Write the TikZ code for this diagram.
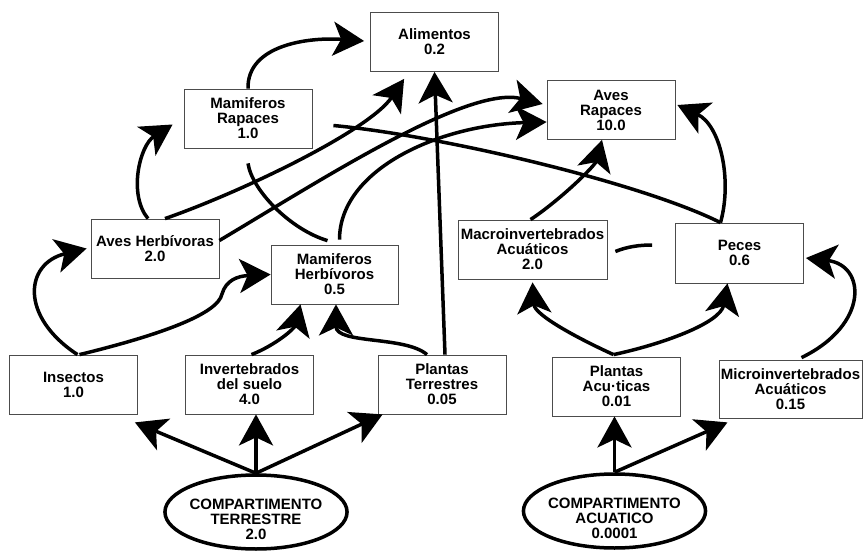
\documentclass[tikz,border=0pt]{standalone}
\usepackage{fontspec}
\setmainfont{Liberation Sans}
\usetikzlibrary{arrows.meta,shapes.geometric}

\begin{document}
\begin{tikzpicture}[x=1pt,y=-1pt,
  box/.style={draw=black!70,line width=0.8pt,align=center,inner sep=2pt,minimum width=128pt,minimum height=59pt,font=\bfseries\fontsize{15}{15}\selectfont},
  comp/.style={ellipse,draw,line width=3.5pt,align=center,inner xsep=-2pt,inner ysep=-6pt,minimum width=182pt,minimum height=74pt,font=\bfseries\fontsize{15}{15}\selectfont},
  arr/.style={-{Stealth[length=31pt,width=34pt,inset=8pt]},line width=3.5pt},
  lnk/.style={line width=3.5pt}]
\useasboundingbox (0,0) rectangle (863,551);
\node[box] (alim) at (434.5,42) {Alimentos\\0.2};
\node[box] (mamrap) at (248,118.5) {Mamiferos\\Rapaces\\1.0};
\node[box] (avesrap) at (611,110) {Aves\\Rapaces\\10.0};
\node[box] (avesherb) at (155,248.5) {Aves Herbívoras\\2.0};
\node[box,minimum width=127pt] (mamherb) at (334.5,274.5) {Mamiferos\\Herbívoros\\0.5};
\node[box,minimum width=149pt] (macro) at (532.5,249.5) {Macroinvertebrados\\Acuáticos\\2.0};
\node[box,minimum height=60pt] (peces) at (739.5,253) {Peces\\0.6};
\node[box] (insect) at (73.5,384.5) {Insectos\\1.0};
\node[box] (invert) at (249.5,384.5) {Invertebrados\\del suelo\\4.0};
\node[box] (plterr) at (442,384.5) {Plantas\\Terrestres\\0.05};
\node[box] (placu) at (616.5,386.5) {Plantas\\Acu·ticas\\0.01};
\node[box,minimum width=143pt,minimum height=58pt] (micro) at (790.5,389) {Microinvertebrados\\Acuáticos\\0.15};
\node[comp] (terr) at (256,512) {\rule{0pt}{25pt}COMPARTIMENTO\\TERRESTRE\\2.0};
\node[comp] (acua) at (614.5,511) {\rule{0pt}{25pt}COMPARTIMENTO\\ACUATICO\\0.0001};
\draw[arr] (terr.north) -- ([shift={(-3,8)}]insect.south east);
\draw[arr] (terr.north) -- (terr.north |- invert.south);
\draw[arr] (terr.north) -- ([xshift=5pt]plterr.south west);
\draw[arr] (acua.north) -- (acua.north |- placu.south);
\draw[arr] (acua.north) -- ([shift={(9,4)}]micro.south west);
\draw[arr] ([xshift=4pt]insect.north) .. controls +(-58,-38) and +(-62,15) .. ([xshift=-4pt]avesherb.west);
\draw[arr] ([xshift=6pt]insect.north) .. controls (160,335) and (218,314) .. (222,294) .. controls (226,280) and (238,276) .. (mamherb.west);
\draw[arr] ([xshift=2pt]invert.north) .. controls +(25,-10) and +(-6,24) .. ([xshift=-34pt]mamherb.south);
\draw[arr] ([xshift=-15pt]plterr.north) .. controls +(-22,-19) and +(0,40) .. ([xshift=1.5pt]mamherb.south);
\draw[arr] ([xshift=3pt]plterr.north) -- (alim.south);
\draw[lnk] ([shift={(-7,-4)}]mamherb.north) .. controls +(-37,-11) and +(4,27) .. ([yshift=-15pt]mamrap.south);
\draw[arr] ([shift={(5,-5)}]mamherb.north) .. controls +(0,-70) and +(-108,3) .. ([yshift=-12pt]avesrap.west);
\draw[arr] ([xshift=10pt]avesherb.north) .. controls +(75,-26) and +(-35,52) .. ([shift={(34,7)}]alim.south west);
\draw[arr] ([yshift=8pt]avesherb.east) .. controls +(101,-60) and +(-75,-19) .. ([shift={(-4,-6)}]avesrap.west);
\draw[arr] ([xshift=-7pt]avesherb.north) .. controls +(-20,-24) and +(-33,21) .. ([shift={(-11,6)}]mamrap.west);
\draw[arr] (mamrap.north) .. controls +(-1,-44) and +(-55,-4) .. ([shift={(-6,-1)}]alim.west);
\draw[lnk] ([shift={(21,7)}]mamrap.east) .. controls +(107,10) and +(-80,-40) .. ([xshift=-19pt]peces.north);
\draw[arr] ([xshift=-19pt]peces.north) .. controls +(12,-43) and +(43,20) .. ([shift={(2,-5)}]avesrap.east);
\draw[arr] ([xshift=-2pt]macro.north) .. controls +(30,-20) and +(-7,26) .. ([xshift=-9pt]avesrap.south);
\draw[lnk] ([shift={(8,2)}]macro.east) .. controls +(12,-5) and +(-12,0) .. ([shift={(-23,-8)}]peces.west);
\draw[arr] ([shift={(-3,-2)}]placu.north) .. controls +(-33,-15) and +(2,33) .. ([yshift=-3pt]macro.south);
\draw[arr] ([shift={(-3,-2)}]placu.north) .. controls +(47,-10) and +(-7,40) .. ([xshift=-12pt]peces.south);
\draw[arr] ([shift={(11,-2)}]micro.north) .. controls +(68,-33) and +(60,7) .. ([shift={(2,5)}]peces.east);
\end{tikzpicture}
\end{document}
